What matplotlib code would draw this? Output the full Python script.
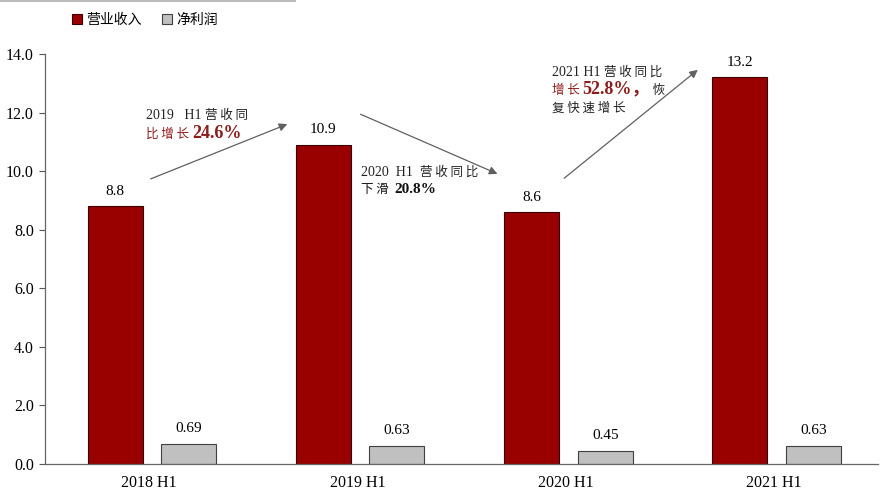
import matplotlib
matplotlib.use("Agg")
import matplotlib.pyplot as plt
import numpy as np

categories = ["2018 H1", "2019 H1", "2020 H1", "2021 H1"]
revenue = [8.8, 10.9, 8.6, 13.2]
profit = [0.69, 0.63, 0.45, 0.63]
series_names = ["营业收入", "净利润"]
yticks = [0.0, 2.0, 4.0, 6.0, 8.0, 10.0, 12.0, 14.0]

SERIF = ["Liberation Serif", "Noto Sans CJK SC"]
CJK = ["Noto Sans CJK SC", "Liberation Serif"]
RED = "#990000"
TXTRED = "#8E1B1B"
GREY = "#C0C0C0"

fig = plt.figure(figsize=(8.8, 4.93), dpi=100)
ax = fig.add_axes([45/880, 1-464/493, 833/880, (464-54)/493])

x = np.arange(len(categories))
w = 0.264
b1 = ax.bar(x - 0.163, revenue, w, color=RED, edgecolor="#3a0000", linewidth=0.8, label=series_names[0])
b2 = ax.bar(x + 0.19, profit, w, color=GREY, edgecolor="#404040", linewidth=0.8, label=series_names[1])

for r in b1:
    ax.annotate(f"{r.get_height():.1f}", (r.get_x()+r.get_width()/2, r.get_height()),
                xytext=(0, 6), textcoords="offset points", ha="center", va="bottom",
                fontsize=11, family=SERIF)
for r in b2:
    ax.annotate(f"{r.get_height():.2f}", (r.get_x()+r.get_width()/2, r.get_height()),
                xytext=(0, 6), textcoords="offset points", ha="center", va="bottom",
                fontsize=11, family=SERIF)

ax.set_xlim(-0.5, 3.5)
ax.set_ylim(0, 14)
ax.set_yticks(yticks)
ax.set_yticklabels([f"{v:.1f}" for v in yticks], family=SERIF, fontsize=11.5)
ax.set_xticks(x)
ax.set_xticklabels(categories, family=SERIF, fontsize=11.5)
ax.tick_params(axis="x", length=0, pad=8)
ax.tick_params(axis="y", direction="out", length=4, width=0.8, color="#555555", pad=4)
for s in ["top", "right"]:
    ax.spines[s].set_visible(False)
for s in ["left", "bottom"]:
    ax.spines[s].set_color("#666666")
    ax.spines[s].set_linewidth(0.9)

arrow_kw = dict(arrowstyle="-|>", color="#606060", lw=0.9, mutation_scale=12)
ax.annotate("", xy=(0.676, 11.64), xytext=(-0.005, 9.70), arrowprops=arrow_kw)
ax.annotate("", xy=(1.685, 9.87), xytext=(1.003, 11.98), arrowprops=arrow_kw)
ax.annotate("", xy=(2.645, 13.52), xytext=(1.983, 9.70), arrowprops=arrow_kw)

renderer = fig.canvas.get_renderer()

def chain(x0, y0, parts):
    xc = x0
    for txt, color, size, weight, fam in parts:
        t = ax.text(xc, y0, txt, color=color, fontsize=size, fontweight=weight,
                    family=fam, ha="left", va="baseline")
        bb = t.get_window_extent(renderer)
        xc = ax.transData.inverted().transform((bb.x1, bb.y0))[0]

# annotation 1
chain(-0.015, 11.78, [("2019   H1 ", "#222222", 10, "normal", SERIF),
                      ("营 收 同", "#222222", 9, "normal", CJK)])
chain(-0.015, 11.14, [("比 增 长 ", TXTRED, 9, "normal", CJK),
                      ("24.6%", TXTRED, 13, "bold", SERIF)])
# annotation 2
chain(1.017, 9.85, [("2020  H1  ", "#222222", 10, "normal", SERIF),
                    ("营 收 同 比", "#222222", 9, "normal", CJK)])
chain(1.017, 9.24, [("下 滑  ", "#111111", 9, "normal", CJK),
                    ("20.8%", "#111111", 11, "bold", SERIF)])
# annotation 3
chain(1.935, 13.26, [("2021 H1 ", "#222222", 10, "normal", SERIF),
                     ("营 收 同 比", "#222222", 9, "normal", CJK)])
chain(1.935, 12.64, [("增 长 ", TXTRED, 9, "normal", CJK),
                     ("52.8%，", TXTRED, 13, "bold", SERIF),
                     (" 恢", "#222222", 9, "normal", CJK)])
chain(1.935, 12.04, [("复 快 速 增 长", "#222222", 9, "normal", CJK)])

leg = fig.legend(handles=[b1, b2], labels=series_names, loc="center", bbox_to_anchor=(145/880, 1-20/493),
                 ncol=2, frameon=False, prop={"family": CJK, "size": 10},
                 handlelength=0.7, handleheight=0.7, handletextpad=0.3, columnspacing=1.5)

fig.add_artist(plt.Line2D([0, 295/880], [1-1/493, 1-1/493], transform=fig.transFigure,
                          color="#BBBBBB", lw=1.5))

fig.savefig("out.png", dpi=100)
